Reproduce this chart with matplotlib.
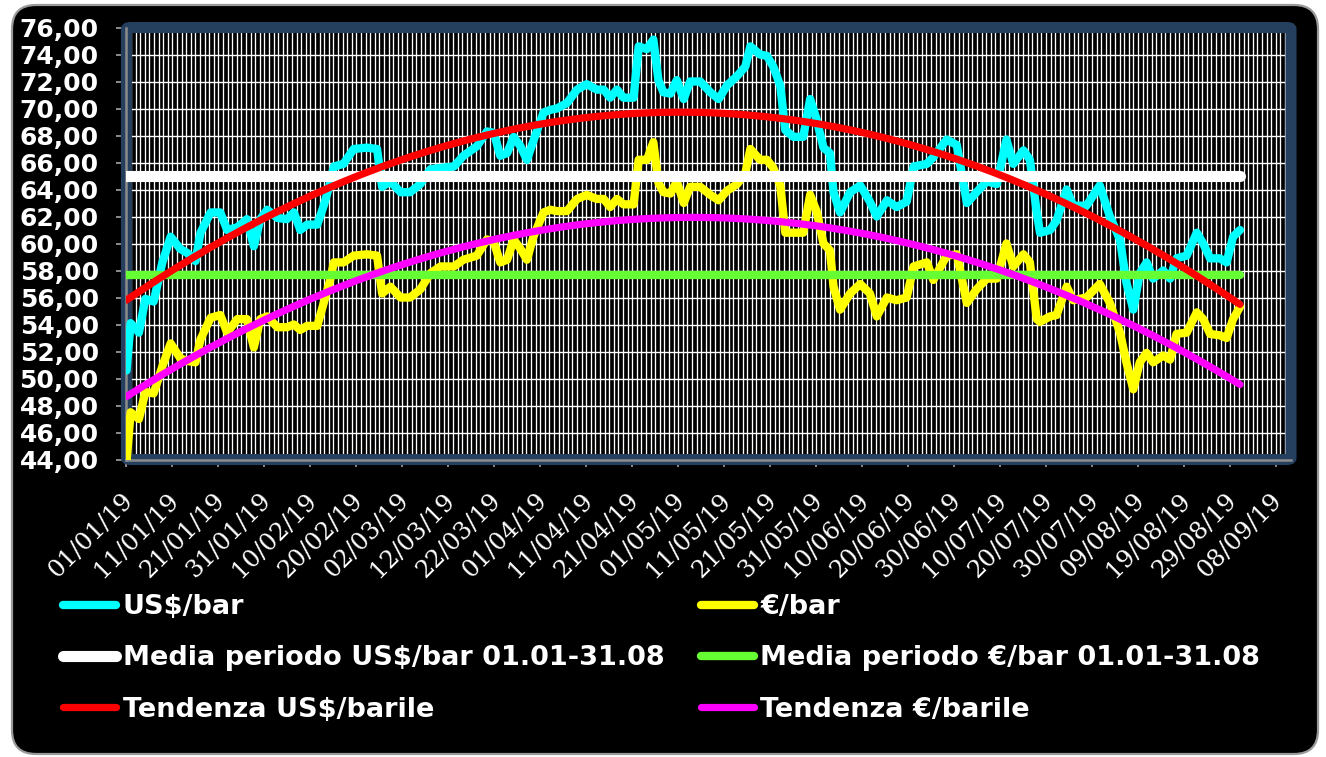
import numpy as np
import pandas as pd
import matplotlib
matplotlib.use("Agg")
import matplotlib.pyplot as plt
from matplotlib.patches import FancyBboxPatch
from matplotlib.transforms import IdentityTransform, ScaledTranslation
from matplotlib.ticker import FuncFormatter, MultipleLocator

# giorni dal 01/01/19
giorni = [0, 0.9, 2.7, 4.1, 5.9, 7.8, 9.6, 11.7, 13.2, 15.0,
          16.1, 18.3, 20.4, 21.9, 24.1, 26.2, 27.7, 29.1, 30.6, 32.8,
          34.9, 36.4, 37.8, 39.3, 41.5, 42.9, 44.3, 45.1, 47.2, 49.4,
          52.3, 54.5, 55.6, 57.4, 59.6, 61.7, 63.9, 66.1, 68.3, 71.2,
          73.3, 76.2, 78.4, 79.9, 81.3, 82.8, 84.2, 85.7, 87.1, 88.5,
          90.7, 92.2,
          93.6, 95.8, 98.0, 100.1, 102.3, 103.8, 105.2, 106.7, 108.1, 110.3,
          111.4, 113.2, 114.6, 115.7, 116.8, 118.3, 119.7, 121.2, 122.6, 124.8,
          127.0, 128.8, 130.6, 132.8, 134.6, 135.7, 137.8, 139.3, 140.7, 142.2,
          143.3, 145.1, 147.2, 148.7, 150.1, 151.6, 153.0, 153.8, 155.2, 157.4,
          159.6, 161.7, 163.2, 165.4, 167.5, 169.7, 171.2, 174.1, 175.5, 178.4,
          180.6, 182.8, 184.9, 187.1, 189.3, 191.4, 192.9, 195.1, 196.5, 198.0,
          198.7, 200.9, 202.3, 204.5, 205.9, 208.8, 211.7, 213.9, 216.1, 217.5,
          219.0, 220.4, 221.9, 223.3, 225.5, 227.0, 228.4, 230.6, 232.8, 234.2,
          235.7, 237.8, 239.3, 240.7, 242.2]

usd_bar = [50.6, 54.1, 53.4, 55.9, 55.7, 58.6, 60.5, 59.6, 59.3, 58.7,
           60.8, 62.3, 62.3, 61.0, 61.2, 61.8, 59.8, 61.8, 62.5, 61.9,
           61.8, 62.3, 61.0, 61.4, 61.4, 62.8, 64.5, 65.7, 65.9, 67.0,
           67.1, 67.0, 64.2, 64.6, 63.8, 63.8, 64.4, 65.5, 65.6, 65.7,
           66.5, 67.2, 68.3, 68.2, 66.5, 66.7, 67.9, 67.2, 66.2, 67.6,
           69.7, 69.9,
           70.0, 70.4, 71.4, 71.8, 71.4, 71.4, 70.8, 71.4, 70.8, 70.8,
           74.6, 74.4, 75.1, 72.1, 71.2, 71.1, 72.1, 70.7, 72.0, 72.0,
           71.2, 70.7, 71.7, 72.4, 73.1, 74.6, 74.0, 73.9, 73.1, 71.7,
           68.4, 67.9, 67.9, 70.7, 69.2, 67.1, 66.7, 63.8, 62.3, 63.8,
           64.3, 63.1, 62.0, 63.2, 62.7, 63.1, 65.7, 65.9, 66.4, 67.7,
           67.3, 63.0, 63.8, 64.6, 64.4, 67.7, 65.9, 66.9, 66.2, 62.3,
           60.8, 61.0, 61.7, 64.0, 62.8, 62.8, 64.3, 62.0, 60.3, 57.1,
           55.1, 57.8, 58.6, 57.4, 58.0, 57.4, 58.9, 59.1, 60.8, 60.0,
           58.9, 58.9, 58.6, 60.5, 61.0]

eur_bar = [43.8, 47.5, 47.0, 49.0, 48.9, 50.9, 52.6, 51.5, 51.3, 51.2,
           52.9, 54.5, 54.7, 53.4, 54.4, 54.4, 52.3, 54.4, 54.6, 53.8,
           53.8, 54.0, 53.6, 53.9, 53.9, 55.6, 57.3, 58.6, 58.6, 59.1,
           59.2, 59.1, 56.3, 56.8, 56.0, 56.0, 56.6, 57.8, 58.3, 58.3,
           58.8, 59.1, 60.3, 60.1, 58.6, 58.8, 60.3, 59.6, 58.8, 60.5,
           62.3, 62.5,
           62.4, 62.4, 63.3, 63.6, 63.3, 63.3, 62.7, 63.3, 62.9, 62.9,
           66.2, 66.2, 67.5, 64.5, 63.8, 63.7, 64.6, 63.0, 64.2, 64.2,
           63.6, 63.2, 63.9, 64.4, 65.2, 67.0, 66.2, 66.2, 65.6, 64.3,
           60.8, 60.8, 60.8, 63.6, 62.4, 60.0, 59.5, 56.8, 55.1, 56.3,
           57.0, 56.3, 54.6, 56.0, 55.8, 56.0, 58.3, 58.6, 57.3, 59.1,
           59.2, 55.6, 56.6, 57.4, 57.4, 60.0, 58.3, 59.2, 58.6, 54.4,
           54.2, 54.6, 54.7, 56.8, 55.8, 56.0, 57.0, 55.6, 53.4, 51.2,
           49.2, 51.2, 51.9, 51.2, 51.7, 51.4, 53.3, 53.4, 54.9, 54.4,
           53.3, 53.2, 53.0, 54.4, 55.3]

media_usd = 65.0
media_eur = 57.7
tick_labels = pd.date_range("2019-01-01", periods=26, freq="10D").strftime("%d/%m/%y")

x = np.array(giorni)
fine = x[-1]

fig = plt.figure(figsize=(13.26, 7.57), dpi=100, facecolor="white")
fig.patches.append(FancyBboxPatch((12, 3), 1306, 749,
                                  boxstyle="round,pad=0,rounding_size=24",
                                  transform=IdentityTransform(),
                                  facecolor="black", edgecolor="#9a9a9a",
                                  linewidth=1.6, zorder=-5))

ax = fig.add_axes([126.5 / 1326, 1 - 459.5 / 757, (1291 - 126.5) / 1326, (459.5 - 27.5) / 757])
ax.set_facecolor("black")
ax.set_xlim(0, 253.3)
ax.set_ylim(44, 76)
for s in ax.spines.values():
    s.set_visible(False)

# griglia
ax.set_xticks(np.arange(0, 251, 10))
ax.set_xticks(np.arange(0, 254, 1), minor=True)
ax.yaxis.set_major_locator(MultipleLocator(2))
ax.grid(True, which="both", axis="x", color="white", linewidth=0.95)
ax.grid(True, which="major", axis="y", color="white", linewidth=1.0)
ax.tick_params(which="minor", length=0)

# cornice area del grafico
ax.add_patch(FancyBboxPatch((0, 0), 1, 1, boxstyle="round,pad=0,rounding_size=0.004",
                            transform=ax.transAxes, fill=False, edgecolor="#253f5f",
                            linewidth=8, clip_on=False, zorder=2.4))
ax.plot([0, 0], [44, 76], color="#8c8c8c", lw=1.8, clip_on=False, zorder=2.6)
ax.plot([0, 253.3], [44, 44], color="#8c8c8c", lw=1.8, clip_on=False, zorder=2.6)

# serie
kw = dict(solid_capstyle="round", solid_joinstyle="round")
l1, = ax.plot(x, usd_bar, color="#00ffff", lw=6, zorder=3, label="US$/bar", **kw)
l2, = ax.plot(x, eur_bar, color="#ffff00", lw=6, zorder=3.1, label="€/bar", **kw)
l3, = ax.plot([0, fine], [media_usd, media_usd], color="white", lw=8, zorder=3.2,
              label="Media periodo US$/bar 01.01-31.08", **kw)
l4, = ax.plot([0, fine], [media_eur, media_eur], color="#66ff33", lw=6, zorder=3.3,
              label="Media periodo €/bar 01.01-31.08", **kw)

# tendenza polinomiale (grado 2) sui valori giornalieri
gg = np.arange(0, fine + 0.01, 1.0)
xt = np.linspace(0, fine, 200)
trend_usd = np.polyval(np.polyfit(gg, np.interp(gg, x, usd_bar), 2), xt)
trend_eur = np.polyval(np.polyfit(gg, np.interp(gg, x, eur_bar), 2), xt)
l5, = ax.plot(xt, trend_usd, color="#ff0000", lw=5.2, zorder=3.4, label="Tendenza US$/barile", **kw)
l6, = ax.plot(xt, trend_eur, color="#ff00ff", lw=5.2, zorder=3.5, label="Tendenza €/barile", **kw)

# assi
ax.yaxis.set_major_formatter(FuncFormatter(lambda v, p: f"{v:.2f}".replace(".", ",")))
ax.tick_params(axis="y", which="major", direction="out", length=7, width=1.4,
               color="#8c8c8c", pad=13, labelcolor="white", labelsize=18)
for t in ax.get_yticklabels():
    t.set_fontweight("bold")
ax.tick_params(axis="x", which="major", direction="out", length=5, width=1.4,
               color="#8c8c8c", pad=22, labelcolor="white")
ax.set_xticklabels(tick_labels, fontfamily="DejaVu Serif", fontsize=17.5, rotation=45,
                   rotation_mode="anchor", ha="right", va="center")
sposta = ScaledTranslation(3 / 100, 0, fig.dpi_scale_trans)
for t in ax.get_xticklabels():
    t.set_transform(t.get_transform() + sposta)

leg = fig.legend([l1, l3, l5, l2, l4, l6],
                 [h.get_label() for h in [l1, l3, l5, l2, l4, l6]],
                 ncol=2, loc="upper left", bbox_to_anchor=(63 / 1326, 1 - 594 / 757),
                 frameon=False, borderpad=0, borderaxespad=0, handlelength=1.95,
                 handletextpad=0.25, columnspacing=1.35, labelspacing=0.94,
                 prop=dict(weight="bold", size=19.5))
for t in leg.get_texts():
    t.set_color("white")

fig.savefig("out.png", dpi=100, facecolor="white")
